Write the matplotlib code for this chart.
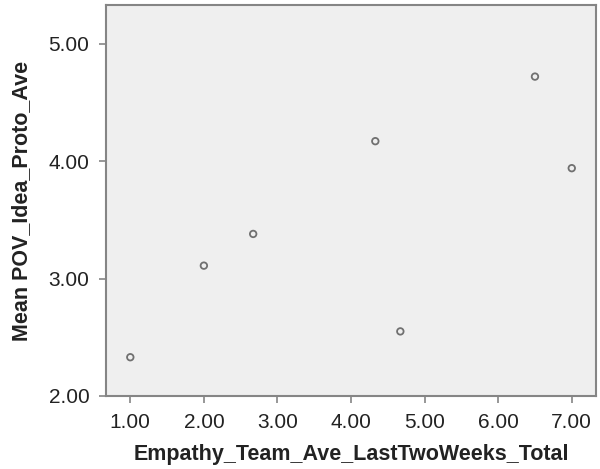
import matplotlib
matplotlib.use("Agg")
import matplotlib.pyplot as plt

plt.rcParams['font.family'] = ['Liberation Sans', 'DejaVu Sans']

empathy = [1.00, 2.00, 2.67, 4.33, 4.67, 6.50, 7.00]
pov_mean = [2.33, 3.11, 3.38, 4.17, 2.55, 4.72, 3.94]

x_ticks = [1, 2, 3, 4, 5, 6, 7]
y_ticks = [2, 3, 4, 5]

fig = plt.figure(figsize=(6.0, 4.69), dpi=100)
ax = fig.add_axes([0.1767, 0.1557, 0.8167, 0.8337])
ax.set_facecolor("#efefef")

ax.scatter(empathy, pov_mean, s=22, facecolors="none", edgecolors="#707070",
           linewidths=1.3, zorder=3)

ax.set_xlim(0.67, 7.33)
ax.set_ylim(2.0, 5.33)
ax.set_xticks(x_ticks)
ax.set_yticks(y_ticks)
ax.set_xticklabels(["%.2f" % v for v in x_ticks])
ax.set_yticklabels(["%.2f" % v for v in y_ticks])

for s in ax.spines.values():
    s.set_color("#858585")
    s.set_linewidth(1.5)

ax.tick_params(direction="out", length=5, width=1.2, color="#858585",
               labelsize=15, labelcolor="#222222", pad=7)

ax.set_xlabel("Empathy_Team_Ave_LastTwoWeeks_Total", fontsize=15.5,
              fontweight="bold", color="#222222", labelpad=9)
ax.set_ylabel("Mean POV_Idea_Proto_Ave", fontsize=15.5,
              fontweight="bold", color="#222222", labelpad=12)

fig.savefig("out.png", dpi=100)
